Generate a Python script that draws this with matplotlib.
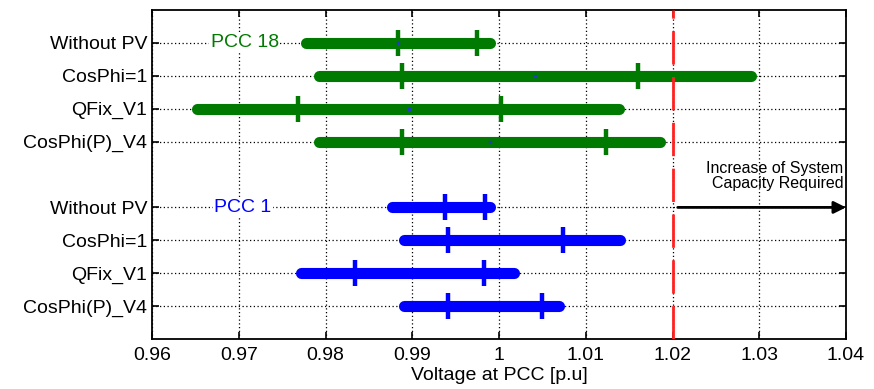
import numpy as np
import matplotlib
matplotlib.use("Agg")
import matplotlib.pyplot as plt

plt.rcParams['font.family'] = ['Liberation Sans', 'DejaVu Sans']

# categories (same for both PCC groups)
cases = ["Without PV", "CosPhi=1", "QFix_V1", "CosPhi(P)_V4"]

# PCC 18 (green): min / max range, two quantile ticks, small centre dot
pcc18_min = [0.9778, 0.9793, 0.9652, 0.9793]
pcc18_max = [0.9990, 1.0290, 1.0138, 1.0186]
pcc18_q1 = [0.9884, 0.9888, 0.9768, 0.9888]
pcc18_q2 = [0.9975, 1.0160, 1.0002, 1.0123]
pcc18_mid = [0.9884, 1.0042, 0.9896, 0.9990]

# PCC 1 (blue)
pcc1_min = [0.9877, 0.9891, 0.9772, 0.9891]
pcc1_max = [0.9990, 1.0140, 1.0017, 1.0069]
pcc1_q1 = [0.9938, 0.9941, 0.9834, 0.9941]
pcc1_q2 = [0.9984, 1.0074, 0.9983, 1.0050]

v_limit = 1.02
xticks = [0.96, 0.97, 0.98, 0.99, 1.00, 1.01, 1.02, 1.03, 1.04]
xtick_labels = ["0.96", "0.97", "0.98", "0.99", "1", "1.01", "1.02", "1.03", "1.04"]

rows18 = [1, 2, 3, 4]
rows1 = [6, 7, 8, 9]

fig = plt.figure(figsize=(8.74, 3.89), dpi=100)
ax = fig.add_axes([152/874, 1-339/389, (846-152)/874, (339-10)/389])

green = '#007a00'
blue = '#0000ff'

def draw_group(rows, lo, hi, q1, q2, color, mid=None):
    for i, y in enumerate(rows):
        ax.plot([lo[i], hi[i]], [y, y], color=color, lw=8,
                solid_capstyle='round', zorder=3)
        ax.plot([q1[i], q2[i]], [y, y], ls='none', marker='|', ms=19,
                mew=3.2, color=color, zorder=4)
        if mid is not None:
            ax.plot(mid[i], y, ls='none', marker='s', ms=1.5,
                    color='#1f3fbf', zorder=5)

draw_group(rows18, pcc18_min, pcc18_max, pcc18_q1, pcc18_q2, green, pcc18_mid)
draw_group(rows1, pcc1_min, pcc1_max, pcc1_q1, pcc1_q2, blue)

ax.axvline(v_limit, color='#ff2020', lw=2, dashes=(12, 4.5), zorder=6)

ax.annotate("", xy=(1.04, rows1[0]), xytext=(v_limit + 0.0006, rows1[0]),
            arrowprops=dict(arrowstyle='-|>', color='black', lw=2,
                            mutation_scale=18, shrinkA=0, shrinkB=0),
            zorder=7)
ax.text(1.0397, 5.05, "Increase of System\nCapacity Required", ha='right',
        va='center', fontsize=11.5, linespacing=1.0, zorder=7)

ax.text(0.9707, rows18[0], "PCC 18", color=green, fontsize=14, ha='center',
        va='center', zorder=5,
        bbox=dict(facecolor='white', edgecolor='none', pad=1))
ax.text(0.9705, rows1[0], "PCC 1", color=blue, fontsize=14, ha='center',
        va='center', zorder=5,
        bbox=dict(facecolor='white', edgecolor='none', pad=1))

ax.set_xlim(0.96, 1.04)
ax.set_ylim(10, 0)
ax.set_xticks(xticks)
ax.set_xticklabels(xtick_labels, fontsize=14)
ax.set_yticks(rows18 + rows1)
ax.set_yticklabels(cases + cases, fontsize=14)
ax.tick_params(direction='in', top=True, right=True, length=5, width=1.2)
ax.tick_params(axis='x', pad=6)
ax.grid(True, color='black', ls=(0, (1, 2)), lw=0.9)
ax.set_axisbelow(True)
for s in ax.spines.values():
    s.set_linewidth(1.3)
ax.set_xlabel("Voltage at PCC [p.u]", fontsize=14, labelpad=2)

fig.savefig("out.png", dpi=100)
